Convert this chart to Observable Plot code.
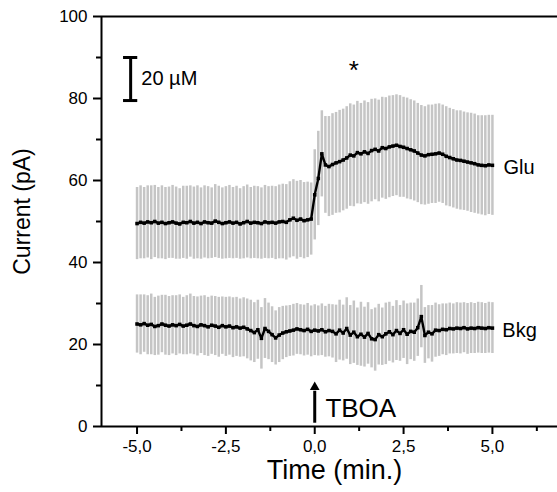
<!DOCTYPE html>
<html><head><meta charset="utf-8">
<script src="https://cdn.jsdelivr.net/npm/d3@7"></script>
<script src="https://cdn.jsdelivr.net/npm/@observablehq/plot@0.6"></script>
<style>
body{margin:0;background:#fff;}
#wrap{width:557px;height:492px;overflow:hidden;}
#wrap svg{max-width:none !important;}
</style></head>
<body><div id="wrap"></div>
<script>
const time = [-5.0,-4.9,-4.8,-4.7,-4.6,-4.5,-4.4,-4.3,-4.2,-4.1,-4.0,-3.9,-3.8,-3.7,-3.6,-3.5,-3.4,-3.3,-3.2,-3.1,-3.0,-2.9,-2.8,-2.7,-2.6,-2.5,-2.4,-2.3,-2.2,-2.1,-2.0,-1.9,-1.8,-1.7,-1.6,-1.5,-1.4,-1.3,-1.2,-1.1,-1.0,-0.9,-0.8,-0.7,-0.6,-0.5,-0.4,-0.3,-0.2,-0.1,0.0,0.1,0.2,0.3,0.4,0.5,0.6,0.7,0.8,0.9,1.0,1.1,1.2,1.3,1.4,1.5,1.6,1.7,1.8,1.9,2.0,2.1,2.2,2.3,2.4,2.5,2.6,2.7,2.8,2.9,3.0,3.1,3.2,3.3,3.4,3.5,3.6,3.7,3.8,3.9,4.0,4.1,4.2,4.3,4.4,4.5,4.6,4.7,4.8,4.9,5.0];

const gluMean = [49.5,49.8,49.6,49.9,49.7,50.0,49.6,49.8,49.5,49.7,49.9,49.6,49.4,49.8,49.7,50.0,49.6,49.8,49.5,49.9,49.7,49.6,50.1,49.8,49.5,49.7,49.9,49.6,49.8,49.4,49.7,50.0,49.6,49.8,49.7,49.5,49.9,49.7,49.8,49.6,49.9,50.0,49.8,50.4,50.8,50.3,50.6,50.2,50.4,50.6,
56.5,60.5,66.5,63.8,63.4,63.9,64.3,64.6,65.0,65.5,66.2,66.0,66.8,66.5,67.0,66.6,67.3,67.6,67.2,68.0,67.8,68.2,68.4,68.6,68.3,68.1,67.8,67.5,67.2,66.7,66.2,66.0,66.3,66.4,66.5,66.7,66.4,65.9,65.6,65.3,65.0,64.9,64.7,64.5,64.3,64.1,63.8,63.7,63.6,63.8,63.7];

const gluErr = [8.8,8.9,8.7,8.8,9.0,8.8,8.7,8.9,8.8,8.7,8.9,8.8,8.6,8.8,8.9,8.7,8.8,8.9,8.7,8.8,8.8,8.6,8.9,8.8,8.7,8.8,8.9,8.7,8.8,8.6,8.8,8.9,8.7,8.8,8.8,8.7,8.9,8.8,8.8,8.9,9.0,9.1,9.2,9.3,9.4,9.5,9.4,9.3,9.2,8.8,
11.0,11.5,10.5,11.8,12.2,12.4,12.3,12.5,12.4,12.5,12.5,12.4,12.5,12.3,12.4,12.4,12.5,12.3,12.4,12.3,12.4,12.4,12.3,12.3,12.4,12.2,12.3,12.2,12.2,12.1,12.1,12.0,12.1,12.0,12.1,12.0,12.0,12.1,12.0,12.0,12.0,12.1,12.0,12.0,12.1,12.1,12.0,12.1,12.2,12.1,12.2];

const bkgMean = [25.0,24.8,25.1,24.7,24.9,24.4,24.6,25.0,24.7,24.5,24.8,24.6,24.9,24.5,24.7,25.0,24.6,24.4,24.8,24.6,24.3,24.7,24.5,24.2,24.6,24.3,24.5,24.1,24.3,24.0,24.2,23.8,23.4,22.9,23.6,21.5,23.9,23.2,22.4,21.6,22.3,22.8,23.1,23.3,23.5,23.8,23.6,23.4,23.7,23.2,
23.5,23.3,23.6,23.1,23.4,23.2,22.6,23.5,22.8,23.9,22.3,23.0,21.9,22.5,21.8,22.7,21.4,21.2,22.4,21.9,22.6,23.1,22.4,23.4,22.7,23.6,22.5,23.2,23.0,24.1,26.8,22.2,23.0,22.6,23.5,23.4,23.7,23.6,23.9,23.8,24.0,23.9,24.1,23.8,24.0,23.9,24.1,24.0,23.9,24.1,24.0];

const bkgErr = [7.1,7.3,7.0,7.2,7.4,7.1,7.2,7.0,7.3,7.2,7.1,7.3,7.2,7.0,7.2,7.3,7.1,7.2,7.0,7.3,7.2,7.1,7.2,7.3,7.0,7.2,7.1,7.3,7.2,7.1,7.2,7.3,7.4,7.3,7.2,7.5,7.3,6.9,6.8,6.6,6.7,6.5,6.3,6.2,6.3,6.2,6.1,6.2,6.3,6.2,
6.2,6.1,6.3,6.2,6.4,6.5,7.0,7.3,6.8,7.5,7.2,7.6,7.0,7.8,7.3,7.5,7.1,7.7,7.4,7.0,7.5,7.2,6.9,7.3,6.8,7.0,7.4,6.9,7.1,7.0,7.6,6.8,6.5,6.9,6.6,6.3,6.2,6.3,6.2,6.1,6.2,6.2,6.1,6.2,6.2,6.1,6.2,6.2,6.1,6.2,6.2];

const xMajor = [-5, -2.5, 0, 2.5, 5];
const xMinor = [-3.75, -1.25, 1.25, 3.75, 6.25];
const yMajor = [0, 20, 40, 60, 80, 100];
const yMinor = [10, 30, 50, 70, 90];
const scaleBar = {x: -5.18, y1: 79.5, y2: 90};

const glu = time.map((t, i) => ({t, m: gluMean[i], e: gluErr[i]}));
const bkg = time.map((t, i) => ({t, m: bkgMean[i], e: bkgErr[i]}));

const ff = "'Liberation Sans', Arial, sans-serif";
const errStroke = "#c5c5c5";

const chart = Plot.plot({
  width: 563, height: 492,
  marginLeft: 101, marginRight: 0, marginTop: 16, marginBottom: 66,
  x: {domain: [-6, 7]},
  y: {domain: [0, 100]},
  style: {fontFamily: ff, color: "black", background: "white", overflow: "visible", maxWidth: "none"},
  marks: [
    Plot.ruleX(glu, {x: "t", y1: d => d.m - d.e, y2: d => d.m + d.e, stroke: errStroke, strokeWidth: 2.5}),
    Plot.ruleX(bkg, {x: "t", y1: d => d.m - d.e, y2: d => d.m + d.e, stroke: errStroke, strokeWidth: 2.5}),
    Plot.line(glu, {x: "t", y: "m", stroke: "black", strokeWidth: 2.4}),
    Plot.dot(glu, {x: "t", y: "m", symbol: "square", r: 2, fill: "black"}),
    Plot.line(bkg, {x: "t", y: "m", stroke: "black", strokeWidth: 2.4}),
    Plot.dot(bkg, {x: "t", y: "m", symbol: "square", r: 2, fill: "black"}),
    Plot.ruleY([0, 100], {stroke: "black", strokeWidth: 2}),
    Plot.ruleX([-6], {stroke: "black", strokeWidth: 2}),
    Plot.axisX({ticks: xMajor, tickSize: 8, tickPadding: 5, fontSize: 17, strokeWidth: 2, label: null,
      tickFormat: d => d.toFixed(1).replace(".", ",")}),
    Plot.axisX({ticks: xMinor, tickSize: 5, strokeWidth: 2, label: null, tickFormat: () => ""}),
    Plot.axisY({ticks: yMajor, tickSize: 8, tickPadding: 6, fontSize: 17, strokeWidth: 2, label: null}),
    Plot.axisY({ticks: yMinor, tickSize: 5, strokeWidth: 2, label: null, tickFormat: () => ""}),
    // scale bar
    Plot.ruleX([scaleBar], {x: "x", y1: "y1", y2: "y2", stroke: "black", strokeWidth: 3}),
    Plot.ruleY([scaleBar.y1, scaleBar.y2], {x1: scaleBar.x - 0.2, x2: scaleBar.x + 0.2, stroke: "black", strokeWidth: 3}),
    Plot.text(["20 µM"], {x: -4.88, y: 84.8, textAnchor: "start", lineAnchor: "middle", fontSize: 20}),
    Plot.text(["*"], {x: 1.1, y: 86.8, lineAnchor: "middle", fontSize: 26}),
    Plot.text(["Glu"], {x: 5.31, y: 63.2, textAnchor: "start", lineAnchor: "middle", fontSize: 20}),
    Plot.text(["Bkg"], {x: 5.28, y: 23.4, textAnchor: "start", lineAnchor: "middle", fontSize: 20}),
    // TBOA arrow
    Plot.ruleX([0], {y1: 0.8, y2: 8.6, stroke: "black", strokeWidth: 3}),
    Plot.dot([0], {x: d => d, y: 9.6, symbol: "triangle", r: 3.6, fill: "black"}),
    Plot.text(["TBOA"], {x: 0.3, y: 4.4, textAnchor: "start", lineAnchor: "middle", fontSize: 26}),
    // axis titles
    Plot.text(["Time (min.)"], {frameAnchor: "bottom", dx: 2, dy: 44, textAnchor: "middle", lineAnchor: "middle", fontSize: 27}),
    Plot.text(["Current (pA)"], {frameAnchor: "left", dx: -79, dy: -10, rotate: -90, textAnchor: "middle", lineAnchor: "middle", fontSize: 23})
  ]
});
document.getElementById("wrap").appendChild(chart);
</script></body></html>
